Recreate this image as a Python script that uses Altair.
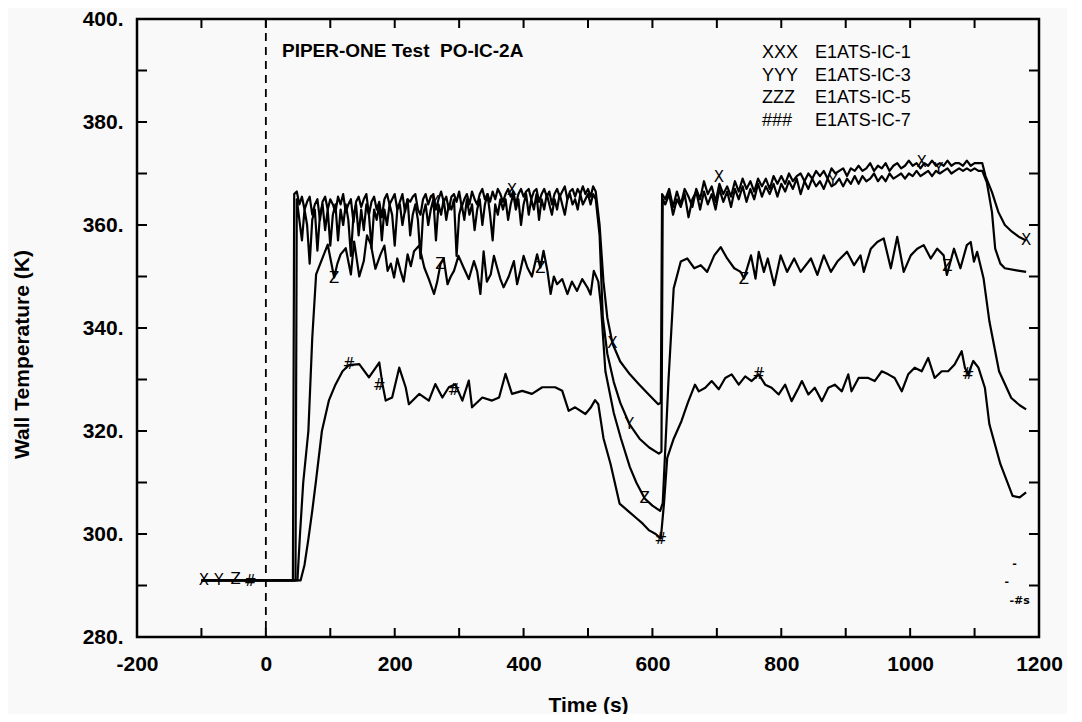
import altair as alt
import pandas as pd

# ---------------- data ----------------
P1_GRID = list(range(48, 513, 4))      # sample times of the first plateau (X and Y curves)
P2_GRID = list(range(620, 1107, 6))    # sample times of the second plateau (X and Y curves)

# E1ATS-IC-1  (XXX)
X_PRE_T = [-100, 42, 44]
X_PRE_V = [291, 291, 366]
X_P1_V = [366.5, 364, 365.5, 363, 364.5, 365.5, 362, 364, 365, 361,
          364.5, 365.5, 363, 365, 364, 362.5, 365.5, 364, 366, 362.5,
          364, 365, 360.5, 364.5, 365.5, 363.5, 365, 366, 362, 364.5,
          365.5, 363, 364.5, 361.5, 365, 366, 364, 365, 366, 363,
          364.5, 366, 362.5, 365, 364.5, 365.5, 366, 363, 362, 365,
          366, 364, 365.5, 366, 363, 365, 366.5, 364.5, 365.5, 363,
          365.5, 366, 364.5, 366.5, 363.5, 365, 366, 364, 366.5, 365,
          364, 366, 367, 365, 366, 364.5, 366.5, 365, 367, 366,
          364.5, 366, 367, 365.5, 366.5, 364, 366, 367, 365.5, 366.5,
          367, 365, 366.5, 367, 364.5, 366, 367, 365.5, 366.5, 364,
          366, 367, 365.5, 366.5, 367.5, 365, 366.5, 367, 365.5, 367,
          366, 367.5, 366, 367, 365.5, 367.5, 366.5]
X_MID_T = [518, 524, 530, 538, 550, 565, 579, 595, 609, 613, 615]
X_MID_V = [360, 349, 342, 337, 333.5, 331, 329.1, 327, 325.2, 325.5, 366]
X_P2_V = [365, 367, 363.5, 366.5, 364, 367, 365.5, 363.5, 367, 365,
          368.5, 366, 367.5, 364.5, 368, 366, 367.5, 365.5, 368.5, 366.5,
          369, 367, 368.5, 366.5, 369, 367.5, 369, 367, 369.5, 368,
          369.5, 368, 370, 368.5, 369.5, 370, 368.5, 370, 369, 370.5,
          369.5, 370.5, 369, 371, 370, 370.5, 371, 369.5, 371, 370.5,
          371.5, 370.5, 371, 372, 370.5, 371.5, 371, 372, 370.5, 371.5,
          372, 371, 371.5, 372.5, 371.5, 372, 371, 372, 371.5, 372.5,
          371.5, 372, 371.5, 372.5, 371.5, 372, 372, 371.5, 372.5, 371.5,
          372, 372]
X_END_T = [1112, 1117, 1127, 1137, 1147, 1158, 1170, 1180]
X_END_V = [372, 369.5, 366.4, 362.5, 360, 358.7, 357.6, 357]

# E1ATS-IC-3  (YYY)
Y_PRE_T = [-100, 46]
Y_PRE_V = [291, 291]
Y_P1_V = [365, 361, 357, 363, 360, 352.5, 361, 363, 355, 362,
          364, 359, 363, 356, 362, 364, 357, 363, 360, 364,
          361, 354, 362, 364, 358, 363, 359, 364, 362, 355.5,
          363, 361, 364, 357, 363, 360, 364, 362, 356, 363,
          364, 360, 363, 365, 358, 362, 364, 361, 353.5, 362,
          364, 360, 363, 365, 357, 364, 362, 365, 361, 364,
          363, 365, 354, 362, 364, 361, 365, 362, 364, 359,
          363, 365, 360, 364, 366, 362, 357, 364, 362, 365,
          363, 365, 361, 364, 366, 363, 365, 360, 364, 366,
          362, 365, 363, 366, 361, 365, 363, 366, 364, 362,
          365, 363, 366, 364, 362, 365, 366, 364, 365, 363,
          366, 364, 365, 366, 364, 366, 365]
Y_MID_T = [518, 523, 530, 540, 550, 564, 580, 595, 610, 614, 616]
Y_MID_V = [358, 342, 335, 329.5, 325.5, 321.4, 318.5, 316.8, 315.6, 316, 365]
Y_P2_V = [364, 366, 362, 365, 363.5, 366, 361.5, 365, 366.5, 363,
          366.5, 364, 366, 363, 367, 364.5, 366.5, 363.5, 367, 365,
          367.5, 364.5, 367, 365, 368, 365.5, 367.5, 366, 368, 365.5,
          368, 366.5, 368.5, 367, 369, 366, 368.5, 367, 369, 367.5,
          368.5, 367, 369, 367.5, 368, 369, 367.5, 369, 368, 369.5,
          368, 369.5, 368.5, 369, 370, 368.5, 369.5, 368.5, 370, 369,
          369.5, 370, 369, 370, 369.5, 370.5, 369.5, 370, 370.5, 369.5,
          370.5, 370, 370.5, 371, 370, 370.5, 371, 370.5, 371, 370.5,
          371, 370.5]
Y_END_T = [1112, 1119, 1127, 1132, 1140, 1147, 1165, 1180]
Y_END_V = [370.5, 368.3, 362.5, 355.4, 352.5, 351.6, 351.2, 350.9]

# E1ATS-IC-5  (ZZZ)
Z_T = [-100, 49, 53, 58, 66, 72, 78,
       96, 101, 106, 111, 116, 124, 132, 137, 145, 152,
       157, 163, 170, 178, 184, 189, 194, 199, 204, 209,
       214, 220, 225, 230, 238, 246, 253, 261, 266, 271,
       276, 282, 287, 292, 299, 307, 315, 323, 328, 333,
       338, 343, 349, 354, 359, 364, 369, 377, 385, 390,
       395, 400, 406, 413, 421, 426, 431, 437, 442, 447,
       452, 460, 468, 475, 483, 491, 499, 504, 509, 516,
       520, 527, 540, 551, 565, 575, 588, 600, 612, 616, 625, 633,
       644, 654, 665, 675, 685, 696, 706, 716, 727, 737,
       742, 747, 753, 760, 765, 773, 779, 789, 799, 809,
       820, 830, 846, 856, 866, 877, 887, 902, 913, 923,
       928, 939, 949, 959, 970, 980, 990, 1001, 1011, 1021,
       1032, 1042, 1052, 1057, 1068, 1078, 1088, 1094, 1099, 1104,
       1114, 1123, 1138, 1157, 1170, 1180]
Z_V = [291, 291, 300, 310, 320, 338, 350.4,
       356.2, 353, 349.8, 352.5, 354.3, 355.5, 350.4, 356.8, 350, 353.0,
       358, 356.2, 351.5, 354.3, 356, 351.1, 352.5, 349.8, 353.5, 351.1,
       349, 354.3, 352, 354.9, 356, 351.7, 349.5, 346.6, 349, 352.4,
       353.5, 348.5, 350, 351.1, 354, 351.7, 349.5, 353.0, 351, 346.6,
       354.9, 349, 350.4, 354, 351.7, 349.5, 347.9, 350, 353.0, 348.5,
       351.1, 354, 351.7, 350, 354.3, 351.7, 355, 351.1, 346.6, 350,
       348.5, 349.5, 346.6, 349, 347.2, 349.5, 347.9, 346.5, 351.1, 349.0,
       344.5, 331.6, 323.5, 318.6, 313, 310, 306.9, 305.5, 304.5, 306, 330, 347.7,
       352.9, 353.5, 351.6, 352.2, 350.9, 354.1, 355.7, 353.5, 351.6, 350.9,
       349.6, 351.6, 354.1, 349.6, 354.8, 350.9, 353.5, 348.3, 354.1, 350.9,
       353.5, 350.9, 353.5, 350.3, 354.1, 350.9, 352.9, 354.8, 352.2, 354.1,
       350.9, 355.4, 356.7, 357.4, 351.6, 357.7, 350.9, 354.1, 355.4, 356.1,
       353.5, 355.4, 354.1, 350.3, 355.4, 351.6, 356.1, 356.7, 352.9, 354.8,
       349.6, 341.3, 331.6, 326.4, 325, 324.2]

# E1ATS-IC-7  (###)
H_T = [-100, 54, 60, 66, 72, 78, 87, 98, 108, 119, 129,
       145, 160, 176, 181, 186, 196, 207, 217, 222, 238,
       253, 263, 274, 284, 294, 305, 315, 320, 336, 351,
       362, 372, 382, 398, 413, 429, 449, 460, 470, 480,
       496, 504, 511,
       516, 524, 535, 549, 562, 574, 585, 595, 605, 613,
       618, 623, 633, 645, 655, 666,
       672, 682, 692, 703, 713, 723, 734, 744, 754, 765,
       775, 785, 796, 806, 816, 827, 832, 842, 852, 863,
       873, 883, 894, 904, 909, 920, 935, 945, 956, 966,
       976, 987, 997, 1007, 1018, 1028, 1038, 1049, 1059, 1069,
       1080, 1085, 1090, 1098, 1106,
       1116, 1123, 1140, 1159, 1170, 1180]
H_V = [291, 291, 294, 299, 304.5, 310.5, 320, 326, 329, 331.6, 332.8,
       333.0, 330.4, 333.3, 329.1, 325.9, 326.5, 332.3, 328.5, 325.2, 327.2,
       325.9, 329.1, 326.5, 328.5, 329.1, 325.9, 329.8, 324.6, 326.5, 325.9,
       326.5, 331.1, 327.2, 327.8, 327.2, 328.5, 328.5, 327.8, 323.9, 324.6,
       323.3, 324.5, 326,
       325.2, 318.6, 313.6, 305.9, 304.5, 303.2, 302, 300.7, 300, 299.1,
       306, 314.8, 318.5, 321.9, 325.5, 329.0,
       327.7, 328.4, 329.7, 328.1, 330.3, 331.0, 329.0, 330.6, 329.7, 331.0,
       329.0, 328.4, 327.1, 329.0, 325.8, 328.4, 329.7, 327.1, 328.4, 325.8,
       328.4, 329.0, 327.7, 331.0, 327.7, 330.3, 330.3, 329.7, 331.6, 331.0,
       330.3, 327.7, 331.0, 332.3, 331.6, 334.2, 330.3, 331.6, 331.6, 332.9,
       335.5, 332.3, 331.0, 333.6, 332.3,
       328.4, 321.3, 313.6, 307.4, 307.1, 308.1]

# symbols written along the curves
MARK_SYM = ["X", "Y", "Z", "#",
            "X", "X", "X", "X", "X",
            "Y", "Y", "Y", "Y",
            "Z", "Z", "Z", "Z", "Z", "Z",
            "#", "#", "#", "#", "#", "#"]
MARK_T = [-96, -73, -47, -24,
          382, 538, 703, 1018, 1180,
          262, 564, 880, 1044,
          106, 271, 426, 588, 742, 1058,
          129, 176, 292, 613, 765, 1090]
MARK_V = [291, 291, 291.3, 290.8,
          366.7, 337, 369.3, 372.2, 357,
          364.5, 321.4, 368.5, 370.9,
          349.8, 352.4, 351.7, 306.9, 349.6, 352,
          333, 329, 328, 299.1, 331, 331]

# small specks near the lower right corner
SPECK_T = [1162, 1150, 1170]
SPECK_V = [294.2, 290.6, 287.0]
SPECK_TXT = ["-", "-", "-#s"]

LEGEND_SYM = ["XXX", "YYY", "ZZZ", "###"]
LEGEND_NAME = ["E1ATS-IC-1", "E1ATS-IC-3", "E1ATS-IC-5", "E1ATS-IC-7"]
TITLE = "PIPER-ONE Test \u00a0PO-IC-2A"

X_LABELS = [-200, 0, 200, 400, 600, 800, 1000, 1200]
Y_LABELS = [280, 300, 320, 340, 360, 380, 400]
X_TICKS = [-100, 0, 100, 200, 300, 400, 500, 600, 700, 800, 900, 1000, 1100]
Y_TICKS = [290, 300, 310, 320, 330, 340, 350, 360, 370, 380, 390]

# ---------------- assemble ----------------
def rows(name, ts, vs):
    assert len(ts) == len(vs), (name, len(ts), len(vs))
    return [{"series": name, "i": k, "t": a, "T": b} for k, (a, b) in enumerate(zip(ts, vs))]

X_T = X_PRE_T + P1_GRID + X_MID_T + P2_GRID + X_END_T
X_V = X_PRE_V + X_P1_V + X_MID_V + X_P2_V + X_END_V
Y_T = Y_PRE_T + P1_GRID + Y_MID_T + P2_GRID + Y_END_T
Y_V = Y_PRE_V + Y_P1_V + Y_MID_V + Y_P2_V + Y_END_V

df = pd.DataFrame(rows("E1ATS-IC-1", X_T, X_V) + rows("E1ATS-IC-3", Y_T, Y_V)
                  + rows("E1ATS-IC-5", Z_T, Z_V) + rows("E1ATS-IC-7", H_T, H_V))

W, H = 902, 618
FONT = "Liberation Sans"
MFONT = "DejaVu Sans"
xs = alt.Scale(domain=[-200, 1200], nice=False, zero=False)
ys = alt.Scale(domain=[280, 400], nice=False, zero=False)

x_axis = alt.Axis(values=X_LABELS, labelExpr="'' + datum.value", labelFont=FONT, labelFontSize=21,
                  labelFontWeight="bold", labelColor="black", labelPadding=16, labelFlush=False,
                  labelOverlap=False, ticks=False, domain=False, grid=False,
                  title="Time (s)", titleFont=FONT, titleFontSize=21, titleFontWeight="bold",
                  titleColor="black", titleY=68, titleBaseline="middle")
y_axis = alt.Axis(values=Y_LABELS, labelExpr="datum.value + '.'", labelFont=FONT, labelFontSize=21,
                  labelFontWeight="bold", labelColor="black", labelPadding=14, labelOverlap=False,
                  ticks=False, domain=False, grid=False,
                  title="Wall Temperature (K)", titleFont=FONT, titleFontSize=21, titleFontWeight="bold",
                  titleColor="black", titleAngle=270, titleX=-115, titleY=335, titleAlign="center",
                  titleBaseline="middle")

X_ENC = alt.X("t:Q", scale=xs, axis=x_axis, title="Time (s)")
Y_ENC = alt.Y("T:Q", scale=ys, axis=y_axis, title="Wall Temperature (K)")

lines = alt.Chart(df).mark_line(color="black", strokeWidth=2.2, strokeJoin="round").encode(
    x=X_ENC, y=Y_ENC, detail="series:N", order="i:Q",
)

marks = alt.Chart(pd.DataFrame({"t": MARK_T, "T": MARK_V, "s": MARK_SYM})).mark_text(
    font=MFONT, fontSize=15, fill="black", baseline="middle", align="center"
).encode(x=X_ENC, y=Y_ENC, text="s:N")

specks = alt.Chart(pd.DataFrame({"t": SPECK_T, "T": SPECK_V, "s": SPECK_TXT})).mark_text(
    font=MFONT, fontSize=11, fontWeight="bold", fill="black", baseline="middle", align="center"
).encode(x=X_ENC, y=Y_ENC, text="s:N")

dash = alt.Chart(pd.DataFrame({"t": [0]})).mark_rule(
    color="black", strokeWidth=1.8, strokeDash=[8, 6]
).encode(x=X_ENC)

xt = pd.DataFrame({"t": X_TICKS})
yt = pd.DataFrame({"T": Y_TICKS})
tick_b = alt.Chart(xt).mark_rule(color="black", strokeWidth=2).encode(
    x=X_ENC, y=alt.value(H), y2=alt.value(H - 9))
tick_t = alt.Chart(xt).mark_rule(color="black", strokeWidth=2).encode(
    x=X_ENC, y=alt.value(0), y2=alt.value(9))
tick_l = alt.Chart(yt).mark_rule(color="black", strokeWidth=2).encode(
    y=Y_ENC, x=alt.value(0), x2=alt.value(10))
tick_r = alt.Chart(yt).mark_rule(color="black", strokeWidth=2).encode(
    y=Y_ENC, x=alt.value(W), x2=alt.value(W - 10))

title = alt.Chart(pd.DataFrame({"s": [TITLE]})).mark_text(
    font=FONT, fontSize=19, fontWeight="bold", fill="black", align="left", baseline="middle"
).encode(x=alt.value(145), y=alt.value(32), text="s:N")

leg = pd.DataFrame({"sym": ["\n".join(LEGEND_SYM)], "name": ["\n".join(LEGEND_NAME)]})
leg_sym = alt.Chart(leg).mark_text(
    font=FONT, fontSize=18, fill="black", align="left", baseline="middle", lineBreak="\n", lineHeight=22.7
).encode(x=alt.value(625), y=alt.value(34), text="sym:N")
leg_name = alt.Chart(leg).mark_text(
    font=FONT, fontSize=18, fill="black", align="left", baseline="middle", lineBreak="\n", lineHeight=22.7
).encode(x=alt.value(678), y=alt.value(34), text="name:N")

chart = alt.layer(
    lines, dash, tick_b, tick_t, tick_l, tick_r, marks, specks, title, leg_sym, leg_name
).properties(
    width=W, height=H,
    autosize=alt.AutoSizeParams(type="none"),
    padding={"left": 129, "top": 11, "right": 28, "bottom": 77},
).configure(background="#f9f9f9").configure_view(stroke="black", strokeWidth=2.5, fill="#f9f9f9")

chart.save("out.html", embed_options={"renderer": "svg", "actions": False})
